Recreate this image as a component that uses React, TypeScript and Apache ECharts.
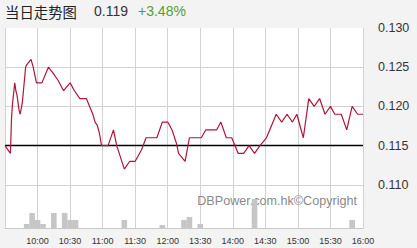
import React, { useEffect, useRef } from "react";
import * as echarts from "echarts";

// Intraday price path (time, price)
const priceTimes = [
  "09:30", "09:35", "09:36", "09:37", "09:39", "09:40", "09:41", "09:43", "09:44", "09:46",
  "09:47", "09:49", "09:50", "09:54", "09:56", "09:59", "10:04", "10:10", "10:14", "10:19",
  "10:24", "10:30", "10:34", "10:39", "10:45", "10:48", "10:51", "10:53", "10:55", "10:57",
  "10:59", "11:05", "11:10", "11:13", "11:20", "11:25", "11:30", "11:36", "11:40", "11:50",
  "11:55", "12:00", "13:04", "13:08", "13:10", "13:16", "13:20", "13:31", "13:35", "13:45",
  "13:49", "13:54", "13:59", "14:05", "14:10", "14:15", "14:20", "14:25", "14:31", "14:34",
  "14:40", "14:45", "14:50", "14:55", "14:59", "15:05", "15:10", "15:15", "15:20", "15:25",
  "15:30", "15:34", "15:40", "15:45", "15:50", "15:55", "16:00",
];
const priceValues = [
  0.115, 0.114, 0.1185, 0.1205, 0.123, 0.122, 0.1215, 0.1195, 0.119, 0.1205,
  0.122, 0.125, 0.1253, 0.126, 0.125, 0.123, 0.123, 0.125, 0.1243, 0.1233,
  0.122, 0.123, 0.122, 0.121, 0.121, 0.12, 0.119, 0.118, 0.1176, 0.1166,
  0.115, 0.115, 0.117, 0.115, 0.112, 0.113, 0.113, 0.1145, 0.116, 0.116,
  0.118, 0.118, 0.117, 0.1153, 0.114, 0.113, 0.116, 0.116, 0.117, 0.117,
  0.118, 0.116, 0.116, 0.114, 0.114, 0.115, 0.114, 0.115, 0.116, 0.117,
  0.119, 0.118, 0.119, 0.118, 0.119, 0.116, 0.121, 0.12, 0.121, 0.119,
  0.12, 0.119, 0.119, 0.117, 0.12, 0.119, 0.119,
];

// Five-minute turnover bars
const volumeTimes = [
  "09:50", "09:55", "10:00", "10:05", "10:15", "10:25", "10:30", "10:35",
  "11:20", "11:55", "13:15", "13:20", "13:30", "14:20", "15:50",
];
const volumeValues = [
  40000, 150000, 80000, 40000, 150000, 150000, 80000, 80000,
  80000, 30000, 80000, 110000, 40000, 290000, 80000,
];

const tickLabels = [
  "10:00", "10:30", "11:00", "11:30", "12:00", "13:30",
  "14:00", "14:30", "15:00", "15:30", "16:00",
];

const sessionTimes = ["09:30", "16:00"];
const prevClose = 0.115;
const lastPrice = 0.119;
const titleText = "当日走势图";
const watermark = "DBPower.com.hk©Copyright";

// Trading minutes since the open, with the lunch break folded out
function toMinute(t: string): number {
  const [h, m] = t.split(":").map(Number);
  const total = h * 60 + m;
  return total <= 720 ? total - 570 : total - 780 + 150;
}

const FONT = "Liberation Sans, Arial, sans-serif";

export default function App() {
  const ref = useRef<HTMLDivElement>(null);

  useEffect(() => {
    if (!ref.current) return;
    const chart = echarts.init(ref.current, null, { renderer: "svg" });
    const change = ((lastPrice - prevClose) / prevClose) * 100;
    const changeText = (change >= 0 ? "+" : "") + change.toFixed(2) + "%";

    chart.setOption({
      animation: false,
      backgroundColor: "#f3f3f3",
      textStyle: { fontFamily: FONT },
      graphic: [
        {
          type: "text",
          left: 5,
          top: 4,
          style: {
            text: titleText,
            fill: "#222",
            font: "14.4px 'Noto Sans CJK SC', sans-serif",
          },
        },
        {
          type: "text",
          left: 94,
          top: 4,
          style: { text: lastPrice.toFixed(3), fill: "#333", font: `14px ${FONT}` },
        },
        {
          type: "text",
          left: 138,
          top: 4,
          style: { text: changeText, fill: "#52a035", font: `14px ${FONT}` },
        },
        {
          type: "text",
          z: 1,
          x: 357,
          y: 201,
          style: {
            text: watermark,
            fill: "#8a8a8a",
            font: `12.6px ${FONT}`,
            textAlign: "right",
            textVerticalAlign: "middle",
          },
        },
      ],
      grid: [
        {
          left: 5,
          right: 54,
          top: 28,
          bottom: 20,
          show: true,
          backgroundColor: "#ffffff",
          borderWidth: 0,
        },
        {
          left: 5,
          right: 54,
          top: 28,
          height: 196,
          show: false,
        },
      ],
      xAxis: [
        {
          type: "value",
          gridIndex: 0,
          min: 0,
          max: 330,
          interval: 30,
          axisLine: { show: true, lineStyle: { color: "#c8c8c8", width: 1 } },
          axisTick: { show: false },
          splitLine: {
            show: true,
            showMinLine: true,
            showMaxLine: true,
            lineStyle: { color: "#d2d2d2", width: 1 },
          },
          axisLabel: {
            showMinLabel: false,
            margin: 8,
            fontSize: 9,
            color: "#333",
            fontFamily: FONT,
            formatter: (v: number) => tickLabels[Math.round(v / 30) - 1] ?? "",
          },
        },
        {
          type: "value",
          gridIndex: 1,
          min: 0,
          max: 330,
          show: false,
          splitLine: { show: false },
        },
      ],
      yAxis: [
        {
          type: "value",
          gridIndex: 0,
          min: 0,
          max: 2000000,
          show: false,
          splitLine: { show: false },
        },
        {
          type: "value",
          gridIndex: 1,
          position: "right",
          min: 0.105,
          max: 0.13,
          interval: 0.005,
          axisLine: { show: false },
          axisTick: { show: false },
          splitLine: {
            show: true,
            showMinLine: false,
            showMaxLine: false,
            lineStyle: { color: "#d2d2d2", width: 1 },
          },
          axisLabel: {
            showMinLabel: false,
            margin: 15,
            fontSize: 12.5,
            color: "#333",
            fontFamily: FONT,
            formatter: (v: number) => v.toFixed(3),
          },
        },
      ],
      series: [
        {
          type: "bar",
          xAxisIndex: 0,
          yAxisIndex: 0,
          barWidth: 5.6,
          itemStyle: { color: "#c6c6c6" },
          data: volumeTimes.map((t, i) => [toMinute(t), volumeValues[i]]),
        },
        {
          // previous close reference line
          type: "line",
          xAxisIndex: 1,
          yAxisIndex: 1,
          symbol: "none",
          silent: true,
          lineStyle: { color: "#000", width: 1.5 },
          data: sessionTimes.map((t) => [toMinute(t), prevClose]),
        },
        {
          type: "line",
          xAxisIndex: 1,
          yAxisIndex: 1,
          showSymbol: false,
          symbol: "none",
          lineStyle: { color: "#b0143c", width: 1.2 },
          data: priceTimes.map((t, i) => [toMinute(t), priceValues[i]]),
        },
      ],
    });

    return () => chart.dispose();
  }, []);

  return (
    <div
      ref={ref}
      style={{ position: "fixed", left: 0, top: 0, width: 417, height: 248 }}
    />
  );
}
